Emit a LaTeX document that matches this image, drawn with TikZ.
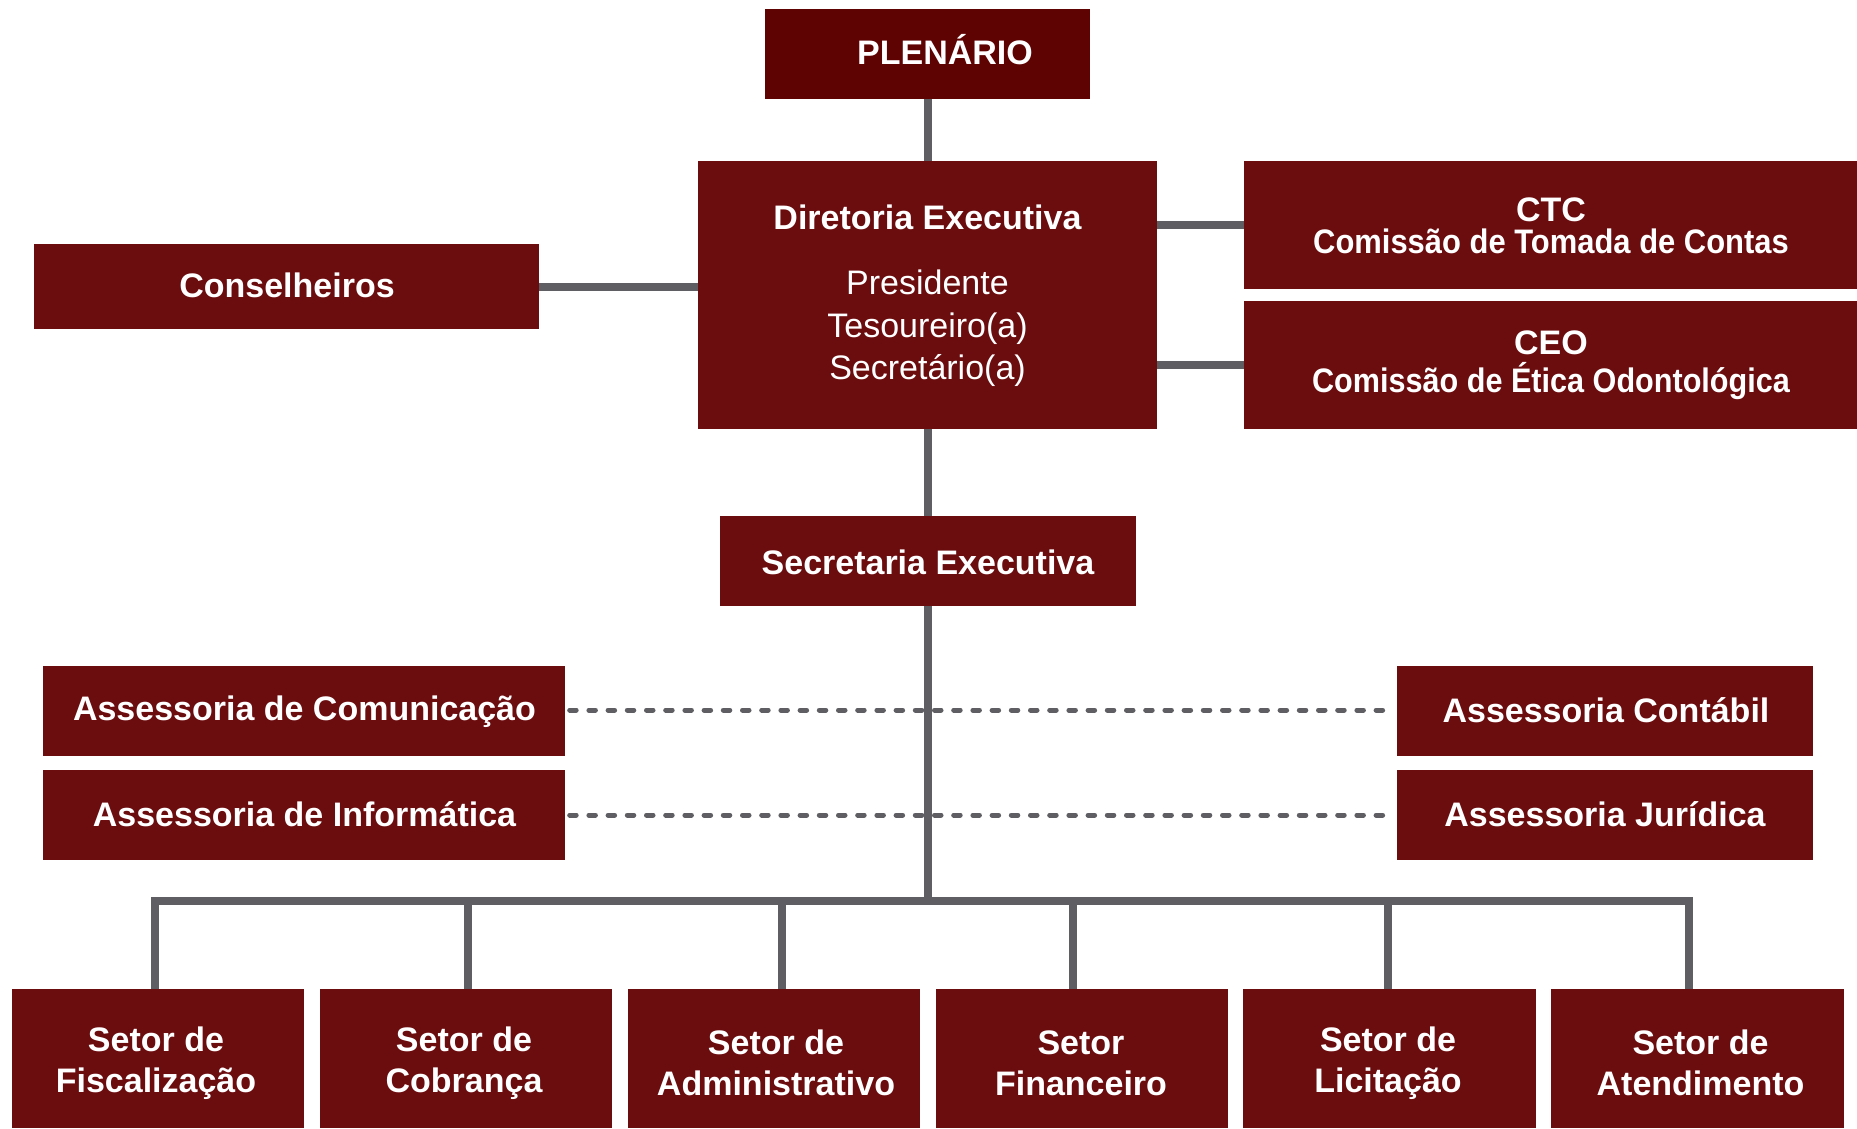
\documentclass[tikz,border=0pt]{standalone}
\usepackage{fontspec}
\setmainfont{Liberation Sans}
\definecolor{boxred}{HTML}{6B0C0F}
\definecolor{plenred}{HTML}{5E0202}
\definecolor{linegray}{HTML}{5F5F63}
\tikzset{
  orgbox/.style={rectangle, fill=boxred, draw=none, inner sep=0pt},
  btxt/.style={text=white, font=\fontsize{34}{40}\selectfont\bfseries, inner sep=0pt, anchor=base},
  rtxt/.style={text=white, font=\fontsize{34}{40}\selectfont, inner sep=0pt, anchor=base},
  conn/.style={draw=linegray, line width=8pt, line join=miter},
  dotconn/.style={draw=linegray, line width=5pt, line cap=round, dash pattern=on 6.5pt off 12.7pt, shorten <=4.5pt, shorten >=4.5pt},
}
\begin{document}
\begin{tikzpicture}[x=1pt,y=-1pt]
\useasboundingbox (0,0) rectangle (1857,1128);
\clip (0,0) rectangle (1857,1128);

% ---------- boxes ----------
\node[orgbox, fill=plenred, minimum width=325pt, minimum height=90pt] (plen) at (927.5,54) {};
\node[orgbox, minimum width=459pt, minimum height=268pt] (dir) at (927.5,295) {};
\node[orgbox, minimum width=505pt, minimum height=85pt] (cons) at (286.5,286.5) {};
\node[orgbox, minimum width=613pt, minimum height=128pt] (ctc) at (1550.5,225) {};
\node[orgbox, minimum width=613pt, minimum height=128pt] (ceo) at (1550.5,365) {};
\node[orgbox, minimum width=416pt, minimum height=90pt] (sec) at (928,561) {};
\node[orgbox, minimum width=522pt, minimum height=90pt] (acom) at (304,711) {};
\node[orgbox, minimum width=522pt, minimum height=90pt] (ainf) at (304,815) {};
\node[orgbox, minimum width=416pt, minimum height=90pt] (acont) at (1605,711) {};
\node[orgbox, minimum width=416pt, minimum height=90pt] (ajur) at (1605,815) {};
\node[orgbox, minimum width=292pt, minimum height=139pt] (s1) at (158,1058.5) {};
\node[orgbox, minimum width=292pt, minimum height=139pt] (s2) at (466,1058.5) {};
\node[orgbox, minimum width=292pt, minimum height=139pt] (s3) at (774,1058.5) {};
\node[orgbox, minimum width=292pt, minimum height=139pt] (s4) at (1082,1058.5) {};
\node[orgbox, minimum width=293pt, minimum height=139pt] (s5) at (1389.5,1058.5) {};
\node[orgbox, minimum width=293pt, minimum height=139pt] (s6) at (1697.5,1058.5) {};

% ---------- connectors ----------
\draw[conn] (plen.south) -- (plen.south |- dir.north);
\draw[conn] (dir.south) -- (dir.south |- sec.north);
\coordinate (busL) at (155,901);
\coordinate (busR) at (1689,901);
\coordinate (busM) at (928,901);
\draw[conn] (sec.south) -- (sec.south |- busM);
\draw[conn] (cons.east) -- (cons.east -| dir.west);
\draw[conn] (dir.east |- ctc.west) -- (ctc.west);
\draw[conn] (dir.east |- ceo.west) -- (ceo.west);
\draw[conn] (busL |- s1.north) -- (busL) -- (busR) -- (busR |- s6.north);
\coordinate (d2) at (468,901);
\coordinate (d3) at (782,901);
\coordinate (d4) at (1073,901);
\coordinate (d5) at (1388,901);
\draw[conn] (d2) -- (d2 |- s2.north);
\draw[conn] (d3) -- (d3 |- s3.north);
\draw[conn] (d4) -- (d4 |- s4.north);
\draw[conn] (d5) -- (d5 |- s5.north);
\draw[dotconn] (acom.east |- 0,710) -- (acont.west |- 0,710);
\draw[dotconn] (ainf.east |- 0,815) -- (ajur.west |- 0,815);

% ---------- texts ----------
\node[btxt] (plenT) at (945,64) {PLENÁRIO};
\node[btxt] (dirT1) at (927.5,229) {Diretoria Executiva};
\node[rtxt] (dirT2) at (927.5,294) {Presidente};
\node[rtxt] (dirT3) at (927.5,337) {Tesoureiro(a)};
\node[rtxt] (dirT4) at (927.5,379) {Secretário(a)};
\node[btxt] (consT) at (287,297) {Conselheiros};
\node[btxt] (ctcT1) at (1551,221) {CTC};
\node[btxt] (ctcT2) at (1551,253) {\scalebox{0.91}[1]{Comissão de Tomada de Contas}};
\node[btxt] (ceoT1) at (1551,354) {CEO};
\node[btxt] (ceoT2) at (1551,392) {\scalebox{0.9}[1]{Comissão de Ética Odontológica}};
\node[btxt] (secT) at (928,574) {Secretaria Executiva};
\node[btxt] (acomT) at (304.5,720) {Assessoria de Comunicação};
\node[btxt] (ainfT) at (304.5,826) {Assessoria de Informática};
\node[btxt] (acontT) at (1606,722) {Assessoria Contábil};
\node[btxt] (ajurT) at (1605,826) {Assessoria Jurídica};

\node[btxt] (s1a) at (156,1051) {Setor de};
\node[btxt] (s1b) at (156,1092) {Fiscalização};
\node[btxt] (s2a) at (464,1051) {Setor de};
\node[btxt] (s2b) at (464,1092) {Cobrança};
\node[btxt] (s3a) at (776,1054) {Setor de};
\node[btxt] (s3b) at (776,1095) {Administrativo};
\node[btxt] (s4a) at (1081,1054) {Setor};
\node[btxt] (s4b) at (1081,1095) {Financeiro};
\node[btxt] (s5a) at (1388,1051) {Setor de};
\node[btxt] (s5b) at (1388,1092) {Licitação};
\node[btxt] (s6a) at (1700.5,1054) {Setor de};
\node[btxt] (s6b) at (1700.5,1095) {Atendimento};
\end{tikzpicture}
\end{document}
